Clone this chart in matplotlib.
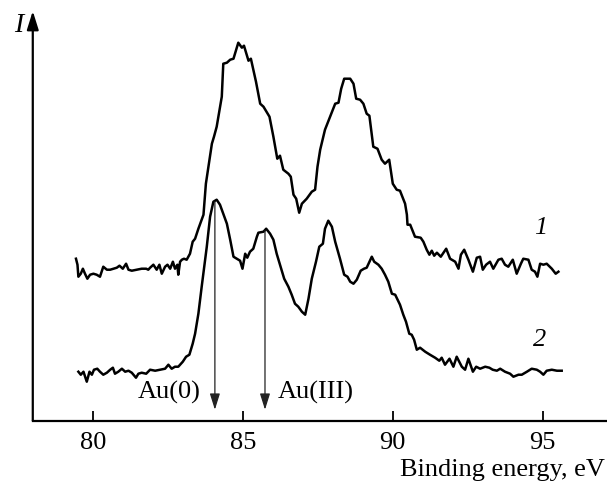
import matplotlib
matplotlib.use("Agg")
import matplotlib.pyplot as plt

# XPS Au 4f spectra, binding energy (eV) vs intensity (arb. units)
be_1 = [79.44, 79.49, 79.52, 79.60, 79.67, 79.74, 79.82, 79.91, 80.02, 80.13,
        80.24, 80.35, 80.47, 80.58, 80.69, 80.80, 80.89, 81.00, 81.11, 81.19,
        81.30, 81.47, 81.63, 81.78, 81.85, 81.91, 82.02, 82.13, 82.22, 82.30,
        82.41, 82.49, 82.58, 82.67, 82.74, 82.82, 82.85, 82.91, 82.97, 83.04,
        83.13, 83.24, 83.33, 83.41, 83.52, 83.63, 83.69, 83.77, 83.97, 84.04,
        84.13, 84.30, 84.35, 84.47, 84.58, 84.69, 84.85, 84.97, 85.04, 85.19,
        85.27, 85.44, 85.58, 85.69, 85.89, 86.02, 86.15, 86.24, 86.35, 86.52,
        86.60, 86.69, 86.78, 86.88, 86.97, 87.13, 87.30, 87.41, 87.49, 87.58,
        87.74, 87.91, 88.08, 88.19, 88.28, 88.38, 88.58, 88.69, 88.78, 88.91,
        89.02, 89.13, 89.22, 89.35, 89.49, 89.63, 89.74, 89.88, 90.00, 90.13,
        90.24, 90.41, 90.47, 90.49, 90.58, 90.74, 90.93, 91.02, 91.13, 91.22,
        91.30, 91.38, 91.47, 91.60, 91.78, 91.91, 92.08, 92.19, 92.27, 92.38,
        92.52, 92.67, 92.80, 92.91, 93.00, 93.11, 93.24, 93.35, 93.52, 93.63,
        93.74, 93.85, 94.00, 94.13, 94.27, 94.35, 94.52, 94.63, 94.74, 94.82,
        94.91, 95.02, 95.13, 95.30, 95.43, 95.52]
int_1 = [162, 156, 144, 147, 152, 147, 142, 146, 147, 146,
         144, 154, 151, 151, 152, 153, 155, 152, 157, 151,
         150, 151, 152, 152, 151, 153, 156, 151, 156, 147,
         154, 156, 152, 159, 152, 156, 146, 159, 161, 162,
         161, 167, 179, 182, 192, 201, 206, 237, 277, 284,
         294, 324, 357, 358, 361, 362, 378, 373, 375, 360,
         362, 339, 317, 314, 304, 284, 262, 265, 251, 247,
         244, 226, 222, 208, 217, 222, 229, 231, 254, 271,
         291, 304, 317, 318, 332, 342, 342, 337, 322, 321,
         317, 307, 305, 274, 272, 261, 257, 261, 237, 231,
         230, 217, 206, 196, 196, 184, 183, 179, 171, 166,
         170, 165, 168, 164, 172, 162, 159, 152, 166, 171,
         161, 149, 163, 164, 151, 156, 159, 152, 161, 162,
         156, 154, 161, 147, 157, 162, 161, 151, 149, 144,
         157, 156, 157, 152, 147, 149]

be_2 = [79.52, 79.60, 79.69, 79.80, 79.89, 79.97, 80.04, 80.15, 80.24, 80.35,
        80.47, 80.58, 80.67, 80.74, 80.85, 80.97, 81.08, 81.19, 81.30, 81.44,
        81.52, 81.63, 81.78, 81.91, 82.08, 82.24, 82.41, 82.52, 82.63, 82.74,
        82.85, 83.00, 83.11, 83.22, 83.33, 83.41, 83.52, 83.63, 83.80, 83.91,
        84.02, 84.13, 84.24, 84.35, 84.47, 84.58, 84.69, 84.80, 84.91, 84.99,
        85.08, 85.15, 85.24, 85.35, 85.47, 85.52, 85.69, 85.78, 85.91, 86.02,
        86.13, 86.24, 86.38, 86.52, 86.63, 86.74, 86.85, 86.97, 87.08, 87.19,
        87.30, 87.44, 87.55, 87.67, 87.74, 87.85, 87.97, 88.08, 88.24, 88.38,
        88.49, 88.58, 88.69, 88.80, 88.93, 89.04, 89.13, 89.30, 89.38, 89.52,
        89.63, 89.74, 89.85, 89.97, 90.08, 90.24, 90.35, 90.44, 90.55, 90.63,
        90.71, 90.80, 90.91, 91.08, 91.24, 91.41, 91.55, 91.63, 91.74, 91.89,
        92.02, 92.13, 92.30, 92.41, 92.52, 92.67, 92.78, 92.91, 93.08, 93.22,
        93.33, 93.47, 93.58, 93.74, 93.91, 94.02, 94.19, 94.30, 94.47, 94.63,
        94.80, 94.91, 95.02, 95.13, 95.30, 95.47, 95.63]
int_2 = [49, 46, 49, 39, 49, 46, 51, 52, 49, 46,
         48, 51, 53, 47, 49, 52, 49, 50, 48, 43,
         47, 48, 47, 51, 50, 51, 52, 56, 52, 54,
         54, 59, 64, 66, 77, 87, 107, 134, 174, 204,
         219, 221, 216, 207, 197, 181, 164, 162, 160, 152,
         167, 163, 169, 172, 184, 188, 189, 192, 187, 181,
         167, 156, 142, 134, 126, 117, 114, 109, 106, 122,
         142, 159, 174, 177, 192, 200, 194, 179, 162, 146,
         144, 139, 137, 141, 150, 152, 153, 164, 159, 156,
         152, 146, 139, 127, 126, 116, 106, 99, 87, 86,
         81, 71, 73, 69, 66, 63, 60, 63, 56, 62,
         54, 64, 54, 51, 62, 49, 54, 52, 54, 53,
         51, 50, 52, 49, 47, 44, 46, 46, 49, 52,
         51, 49, 46, 50, 51, 50, 50]

# marked components: (label, binding energy, top of arrow)
peak_marks = [("Au(0)", 84.07, 219), ("Au(III)", 85.74, 190)]
curve_labels = [("1", 94.94, 193), ("2", 94.90, 81)]
x_ticks = [80, 85, 90, 95]

plt.rcParams["font.family"] = ["Liberation Serif", "DejaVu Serif"]

fig = plt.figure(figsize=(6.07, 4.87), dpi=100)
ax = fig.add_axes([0.054, 0.1361, 0.946, 0.8413])

ax.plot(be_1, int_1, color="black", lw=1.8, solid_joinstyle="round")
ax.plot(be_2, int_2, color="black", lw=1.8, solid_joinstyle="round")

for name, e, top in peak_marks:
    ax.annotate("", xy=(e, 11), xytext=(e, top),
                arrowprops=dict(arrowstyle="-|>,head_length=0.7,head_width=0.22",
                                color="#222222", lw=0.9, shrinkA=0, shrinkB=0,
                                mutation_scale=14))

ax.text(83.58, 28, peak_marks[0][0], ha="right", va="center", fontsize=19)
ax.text(86.18, 28, peak_marks[1][0], ha="left", va="center", fontsize=19)

for name, e, y in curve_labels:
    ax.text(e, y, name, ha="center", va="center", fontsize=19, style="italic")

ax.set_xlim(78.0, 97.14)
ax.set_ylim(0, 409.7)
ax.set_xticks(x_ticks)
ax.set_yticks([])
ax.tick_params(axis="x", direction="in", length=7, width=1.3, pad=8, labelsize=19)

for side in ["top", "right", "left"]:
    ax.spines[side].set_visible(False)
ax.spines["bottom"].set_linewidth(1.6)

# y axis drawn as an arrow
ax.annotate("", xy=(0, 1.0), xycoords="axes fraction", xytext=(0, 0),
            arrowprops=dict(arrowstyle="-|>,head_length=0.8,head_width=0.25",
                            color="black", lw=1.6, shrinkA=0, shrinkB=0,
                            mutation_scale=14))

fig.text(0.031, 0.947, "I", ha="center", va="center", fontsize=20, style="italic")
fig.text(0.997, 0.035, "Binding energy, eV", ha="right", va="center", fontsize=19)

fig.savefig("out.png", dpi=100)
